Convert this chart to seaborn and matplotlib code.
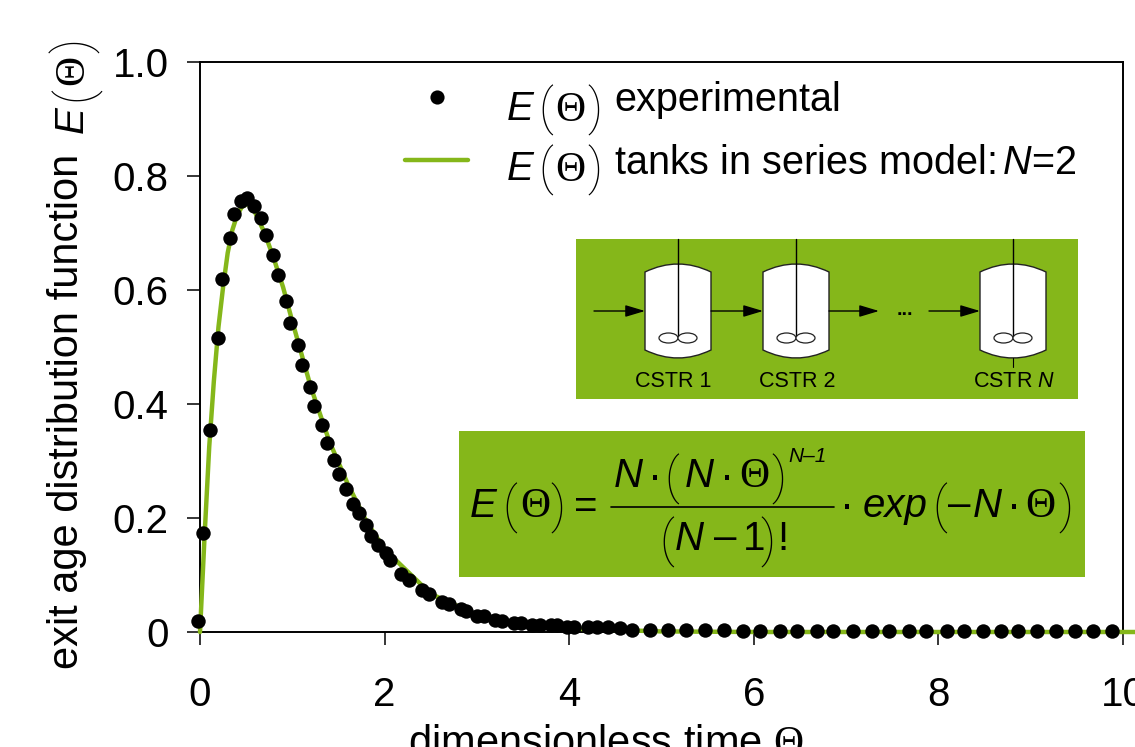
import matplotlib
matplotlib.use("Agg")
import matplotlib.pyplot as plt
import seaborn as sns
import pandas as pd
from matplotlib.patches import Rectangle, Ellipse, PathPatch
from matplotlib.path import Path
from matplotlib.lines import Line2D

# ---------- data ----------
exp_theta = [-0.025, 0.03, 0.11, 0.19, 0.24, 0.32, 0.37, 0.44, 0.505, 0.58, 0.66, 0.72, 0.79, 0.85,
             0.93, 0.98, 1.06, 1.11, 1.19, 1.24, 1.325, 1.375, 1.455, 1.51, 1.587, 1.66, 1.72, 1.80,
             1.85, 1.93, 2.01, 2.06, 2.18, 2.26, 2.41, 2.48, 2.62, 2.70, 2.83, 2.88, 3.00, 3.08,
             3.20, 3.27, 3.40, 3.48, 3.60, 3.68, 3.80, 3.87, 3.98, 4.05, 4.20, 4.30, 4.42, 4.55,
             4.68, 4.88, 5.07, 5.27, 5.47, 5.675, 5.88, 6.07, 6.28, 6.47, 6.68, 6.86, 7.07, 7.28,
             7.47, 7.68, 7.87, 8.09, 8.28, 8.48, 8.68, 8.86, 9.07, 9.27, 9.48, 9.68, 9.88]
exp_E = [0.020, 0.174, 0.354, 0.516, 0.619, 0.692, 0.734, 0.757, 0.762, 0.747, 0.726, 0.696, 0.661, 0.627,
         0.581, 0.542, 0.504, 0.469, 0.430, 0.396, 0.363, 0.332, 0.302, 0.277, 0.251, 0.225, 0.208, 0.187,
         0.169, 0.152, 0.139, 0.126, 0.101, 0.092, 0.074, 0.067, 0.053, 0.049, 0.040, 0.037, 0.028, 0.028,
         0.021, 0.020, 0.016, 0.016, 0.012, 0.012, 0.012, 0.012, 0.009, 0.009, 0.009, 0.008, 0.008, 0.007,
         0.004, 0.003, 0.003, 0.003, 0.003, 0.003, 0.002, 0.002, 0.002, 0.002, 0.002, 0.002, 0.002, 0.002,
         0.002, 0.002, 0.002, 0.002, 0.002, 0.002, 0.002, 0.002, 0.002, 0.002, 0.002, 0.002, 0.002]
model_theta = [0, 0.05, 0.1, 0.15, 0.2, 0.25, 0.3, 0.35, 0.4, 0.45, 0.5, 0.55, 0.6, 0.7, 0.8, 0.9, 1.0,
               1.2, 1.4, 1.6, 1.8, 2.0, 2.5, 3.0, 3.5, 4.0, 5.0, 6.0, 8.0, 10.0, 10.13]
model_E = [0, 0.17, 0.325, 0.44, 0.535, 0.605, 0.665, 0.705, 0.73, 0.745, 0.75, 0.75, 0.735, 0.70, 0.655,
           0.605, 0.545, 0.43, 0.335, 0.26, 0.195, 0.145, 0.067, 0.03, 0.013, 0.006, 0.001, 0.0, 0.0, 0.0, 0.0]
x_ticks = [0, 2, 4, 6, 8, 10]
y_ticks = [0, 0.2, 0.4, 0.6, 0.8, 1.0]
y_tick_labels = ["0", "0.2", "0.4", "0.6", "0.8", "1.0"]
legend_labels = ["experimental", r"tanks in series model:$\,N$=2"]
tank_names = ["CSTR 1", "CSTR 2", "CSTR $N$"]

GREEN = "#85B71A"
W, H = 1135, 747

sns.set_theme(style="ticks")
plt.rcParams["font.family"] = ["Liberation Sans", "DejaVu Sans"]
plt.rcParams["mathtext.fontset"] = "custom"
plt.rcParams["mathtext.rm"] = "Liberation Sans"
plt.rcParams["mathtext.it"] = "Liberation Sans:italic"
plt.rcParams["mathtext.tt"] = "Liberation Serif"

fig = plt.figure(figsize=(W / 100, H / 100), dpi=100, facecolor="white")
ax = fig.add_axes([200 / W, 1 - 632 / H, (1123 - 200) / W, (632 - 62) / H])
ov = fig.add_axes([0, 0, 1, 1], zorder=5)
ov.set_xlim(0, W)
ov.set_ylim(H, 0)
ov.axis("off")
ov.patch.set_alpha(0)

model = pd.DataFrame({"theta": model_theta, "E": model_E})
exper = pd.DataFrame({"theta": exp_theta, "E": exp_E})
sns.lineplot(data=model, x="theta", y="E", ax=ax, color=GREEN, lw=3.2, clip_on=False, zorder=4,
             estimator=None, sort=False)
sns.scatterplot(data=exper, x="theta", y="E", ax=ax, color="black", s=108, linewidth=0, clip_on=False, zorder=5)

ax.set_xlim(0, 10)
ax.set_ylim(0, 1)
ax.set_xticks(x_ticks)
ax.set_yticks(y_ticks)
ax.set_yticklabels(y_tick_labels)
ax.tick_params(axis="both", labelsize=29, length=9.5, width=1.1, color="black", labelcolor="black")
ax.tick_params(axis="x", pad=22)
ax.tick_params(axis="y", pad=13)
for s in ax.spines.values():
    s.set_visible(True)
    s.set_linewidth(1.4)
    s.set_color("black")

ax.set_xlabel(r"dimensionless time $\mathtt{\Theta}$", fontsize=30, va="baseline", color="black")
ax.xaxis.set_label_coords(606, 755, transform=ov.transData)
ax.set_ylabel("exit age distribution function", fontsize=30, va="baseline", color="black")
ax.yaxis.set_label_coords(78, 411, transform=ov.transData)


def t(x, y, s, size=29, style="normal", family="Liberation Sans", rot=0, ha="center", weight="normal"):
    ov.text(x, y, s, fontsize=size, style=style, family=family, rotation=rot, rotation_mode="anchor",
            ha=ha, va="baseline", color="black", fontweight=weight, zorder=4)


def paren(x, base, s, size=36, rot=0):
    t(x, base, s, size=size, family="Roboto", rot=rot, weight="light")


def E_theta(xE, xo, xT, xc, base, pbase, tbase):
    t(xE, base, "E", style="italic")
    paren(xo, pbase, "(")
    t(xT, tbase, "Θ", size=30, family="Liberation Serif")
    paren(xc, pbase, ")")


# legend
handles = [Line2D([], [], ls="none", marker="o", ms=10.2, mfc="black", mec="none"),
           Line2D([], [], color=GREEN, lw=3.2)]
leg = ov.legend(handles, legend_labels, loc="upper left", bbox_to_anchor=(405, 81),
                bbox_transform=ov.transData, frameon=False, fontsize=28.5, borderpad=0, borderaxespad=0,
                handlelength=1.6, handletextpad=3.68, labelspacing=0.62, numpoints=1, labelcolor="black")
E_theta(520, 546, 570, 595, 120, 124, 121)
E_theta(520, 546, 570, 595, 180, 184, 181)

# tank diagram
ov.add_patch(Rectangle((576, 239), 502, 160, fc=GREEN, ec="none", zorder=1))
for left, name, cx in zip([645, 763, 980], tank_names, [673, 797, 1014]):
    r = left + 66
    m = left + 33
    verts = [(left, 272), (m, 256), (r, 272), (r, 350), (m, 366), (left, 350), (left, 272)]
    codes = [Path.MOVETO, Path.CURVE3, Path.CURVE3, Path.LINETO, Path.CURVE3, Path.CURVE3, Path.CLOSEPOLY]
    ov.add_patch(PathPatch(Path(verts, codes), fc="white", ec="#222222", lw=1.0, zorder=2))
    ov.plot([m, m], [239, 338], color="black", lw=1.0, zorder=3)
    for c in (m - 9.5, m + 9.5):
        ov.add_patch(Ellipse((c, 338), 19, 10, fc="white", ec="#222222", lw=0.9, zorder=3))
    ov.text(cx, 387, name, fontsize=15.5, ha="center", va="baseline", color="black", zorder=3)
ov.plot([1013, 1013], [358, 367], color="black", lw=0.8, zorder=3)
for x0, x1 in [(594, 645), (711, 763), (829, 879), (929, 980)]:
    ov.annotate("", xy=(x1, 311), xytext=(x0, 311), zorder=3,
                arrowprops=dict(arrowstyle="-|>,head_length=1.2,head_width=0.36", color="black", lw=1.0,
                                shrinkA=0, shrinkB=0, mutation_scale=10))
ov.text(905, 315, "...", fontsize=14, fontweight="bold", ha="center", va="baseline", color="black", zorder=3)

# equation
ov.add_patch(Rectangle((459, 431), 626, 146, fc=GREEN, ec="none", zorder=1))
E_theta(483, 510, 535, 558, 517, 522, 517)
t(586, 518, "=", size=29)
ov.plot([611, 834], [507, 507], color="black", lw=1.2, zorder=3)
t(628, 487, "N", style="italic")
t(655, 489, "·", size=30)
paren(672, 493, "(")
t(699, 487, "N", style="italic")
t(727, 489, "·", size=30)
t(754, 487, "Θ", size=30, family="Liberation Serif")
paren(779, 493, ")")
t(808, 462, "N–1", size=15, style="italic")
paren(667, 556, "(")
t(689, 550, "N", style="italic")
t(725, 549, "–", size=29)
t(754, 550, "1")
paren(768, 556, ")")
t(783, 550, "!")
t(847, 518, "·", size=30)
t(895, 517, "exp", style="italic")
paren(940, 522, "(")
t(959, 516, "–", size=29)
t(987, 517, "N", style="italic")
t(1014, 518, "·", size=30)
t(1040, 517, "Θ", size=30, family="Liberation Serif")
paren(1066, 522, ")")

# y-axis E(Θ)
t(83, 120, "E", style="italic", rot=90)
paren(83 + 6, 94, "(", rot=90)
t(83, 70, "Θ", size=30, family="Liberation Serif", rot=90)
paren(83 + 6, 45, ")", rot=90)

fig.savefig("out.png", dpi=100)
